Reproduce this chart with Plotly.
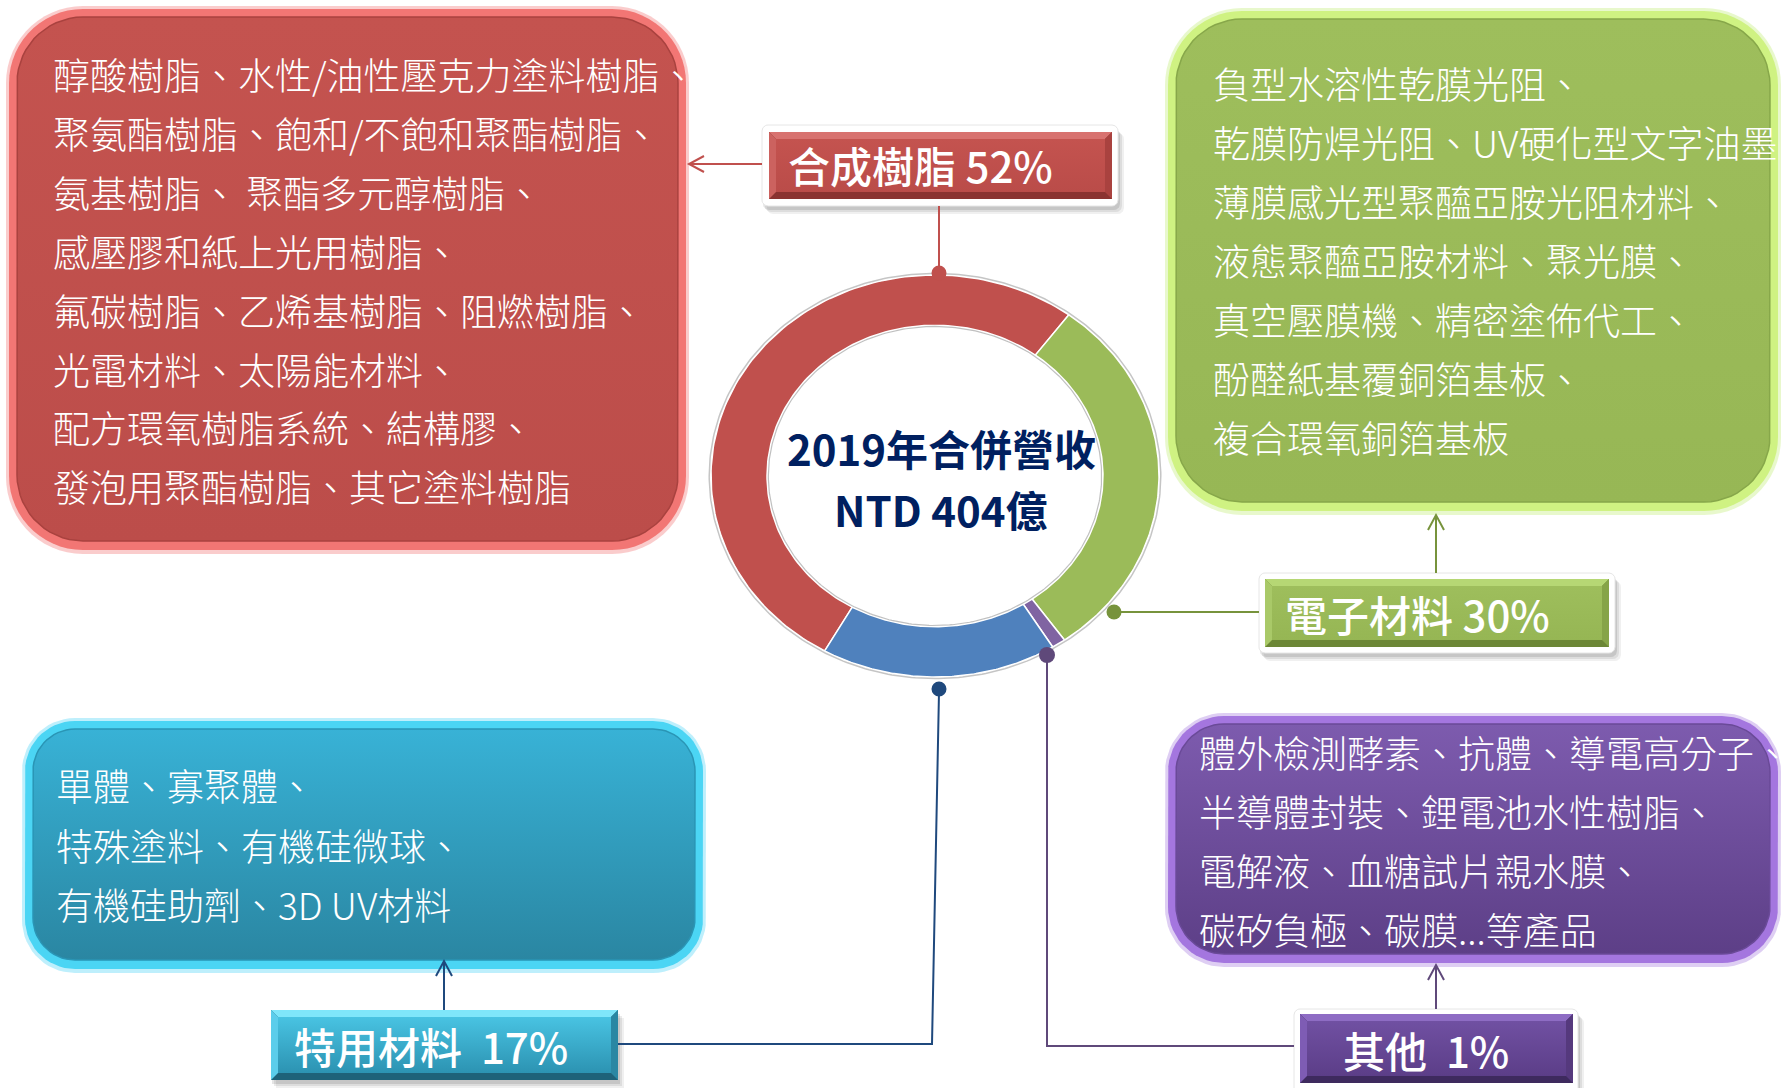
import numpy as np
import plotly.graph_objects as go

W, H = 1787, 1088

# ---------------- data ----------------
segments = ["合成樹脂", "電子材料", "其他", "特用材料"]
shares = [52, 30, 1, 17]
segment_colors = ["#C0504D", "#9BBB59", "#8064A2", "#4F81BD"]
segment_labels = ["合成樹脂 52%", "電子材料 30%", "其他  1%", "特用材料  17%"]
center_title = ["2019年合併營收", "NTD 404億"]

resin_products = [
    "醇酸樹脂、水性/油性壓克力塗料樹脂、",
    "聚氨酯樹脂、飽和/不飽和聚酯樹脂、",
    "氨基樹脂、 聚酯多元醇樹脂、",
    "感壓膠和紙上光用樹脂、",
    "氟碳樹脂、乙烯基樹脂、阻燃樹脂、",
    "光電材料、太陽能材料、",
    "配方環氧樹脂系統、結構膠、",
    "發泡用聚酯樹脂、其它塗料樹脂",
]
electronic_products = [
    "負型水溶性乾膜光阻、",
    "乾膜防焊光阻、UV硬化型文字油墨、",
    "薄膜感光型聚醯亞胺光阻材料、",
    "液態聚醯亞胺材料、聚光膜、",
    "真空壓膜機、精密塗佈代工、",
    "酚醛紙基覆銅箔基板、",
    "複合環氧銅箔基板",
]
specialty_products = [
    "單體、寡聚體、",
    "特殊塗料、有機硅微球、",
    "有機硅助劑、3D UV材料",
]
other_products = [
    "體外檢測酵素、抗體、導電高分子、",
    "半導體封裝、鋰電池水性樹脂、",
    "電解液、血糖試片親水膜、",
    "碳矽負極、碳膜...等產品",
]

FONT = "Noto Sans CJK TC, Noto Sans CJK SC, sans-serif"

fig = go.Figure()


def rr_pts(x0, y0, x1, y1, r, n=16):
    xs, ys = [], []
    corners = [(x1 - r, y0 + r, -90, 0), (x1 - r, y1 - r, 0, 90),
               (x0 + r, y1 - r, 90, 180), (x0 + r, y0 + r, 180, 270)]
    for cx, cy, a0, a1 in corners:
        a = np.radians(np.linspace(a0, a1, n))
        xs += list(cx + r * np.cos(a))
        ys += list(cy + r * np.sin(a))
    xs.append(xs[0]); ys.append(ys[0])
    return xs, ys


def poly(xs, ys, fill=None, grad=None, line=None, width=0, xa="x", ya="y"):
    kw = dict(x=xs, y=ys, mode="lines", fill="toself", hoverinfo="skip",
              showlegend=False, xaxis=xa, yaxis=ya)
    if grad is not None:
        kw["fillgradient"] = dict(type="vertical",
                                  colorscale=[[0, grad[0]], [1, grad[1]]],
                                  start=min(ys), stop=max(ys))
    else:
        kw["fillcolor"] = fill
    kw["line"] = dict(color=line if line else "rgba(0,0,0,0)", width=width)
    fig.add_trace(go.Scatter(**kw))


def rect_pts(x0, y0, x1, y1):
    return [x0, x1, x1, x0, x0], [y0, y0, y1, y1, y0]


# ---------------- big rounded boxes ----------------
boxes = [
    # (x0,y0,x1,y1,r, glow, rim, face_top, face_bottom, inner_line)
    (9, 9, 686, 550, 74, "rgba(240,110,110,0.35)", "#F27674", "#C4534F", "#BC4D4A", "#A9423F"),
    (1168, 11, 1778, 511, 74, "rgba(190,235,110,0.35)", "#CFF282", "#9EBE5C", "#97B755", "#87A74A"),
    (25, 721, 703, 969, 50, "rgba(70,210,245,0.35)", "#4BD5F4", "#38B2D6", "#2A86A2", "#2A95B5"),
    (1168, 716, 1778, 963, 56, "rgba(160,115,220,0.35)", "#A476DF", "#7D5BAE", "#5D3F87", "#6A4A98"),
]
for (x0, y0, x1, y1, r, glow, rim, ft, fb, il) in boxes:
    xs, ys = rr_pts(x0 - 3, y0 - 3, x1 + 3, y1 + 4, r + 3)
    poly(xs, ys, fill=glow)
    xs, ys = rr_pts(x0, y0, x1, y1, r)
    poly(xs, ys, fill=rim)
    xs, ys = rr_pts(x0 + 8, y0 + 8, x1 - 8, y1 - 9, r - 8)
    poly(xs, ys, grad=(ft, fb), line=il, width=1.5)


# ---------------- labels with bevel ----------------
def bevel_label(face, frame, top_c, left_c, right_c, bottom_c, face_grad, b=7):
    x0, y0, x1, y1 = face
    if frame is not None:
        fx0, fy0, fx1, fy1 = frame
        for off, a in [(8, 0.06), (6, 0.08), (4, 0.10)]:
            xs, ys = rr_pts(fx0 + off - 3, fy0 + off, fx1 + off - 2, fy1 + off, 6)
            poly(xs, ys, fill=f"rgba(0,0,0,{a})")
        xs, ys = rr_pts(fx0, fy0, fx1, fy1, 6)
        poly(xs, ys, fill="#FFFFFF", line="#E6E6E6", width=1)
    else:
        for off, a in [(8, 0.06), (6, 0.08), (4, 0.10)]:
            xs, ys = rect_pts(x0 + off - 3, y0 + off, x1 + off - 2, y1 + off)
            poly(xs, ys, fill=f"rgba(0,0,0,{a})")
    xs, ys = rect_pts(x0, y0, x1, y1)
    poly(xs, ys, fill=bottom_c)
    poly([x0, x1, x1 - b, x0 + b, x0], [y0, y0, y0 + b, y0 + b, y0], fill=top_c)
    poly([x0, x0 + b, x0 + b, x0, x0], [y0, y0 + b, y1 - b, y1, y0], fill=left_c)
    poly([x1, x1, x1 - b, x1 - b, x1], [y0, y1, y1 - b, y0 + b, y0], fill=right_c)
    xs, ys = rect_pts(x0 + b, y0 + b, x1 - b, y1 - b)
    poly(xs, ys, grad=face_grad)


bevel_label((769, 132, 1112, 199), (762, 125, 1118, 206),
            "#D8726F", "#CC625F", "#A9423F", "#8A3331", ("#C4534F", "#BA4C49"))
bevel_label((1265, 579, 1609, 647), (1259, 573, 1615, 653),
            "#B6D774", "#A9C968", "#86A448", "#6C8736", ("#9EBE5C", "#96B654"))
bevel_label((271, 1010, 618, 1080), None,
            "#7FE6FA", "#5BCDEB", "#2A87A3", "#1E6279", ("#48C3E2", "#2C93B2"))
bevel_label((1300, 1014, 1573, 1083), (1294, 1009, 1578, 1094),
            "#8E6CC4", "#7E5CB4", "#55397D", "#3E2A5E", ("#7050A2", "#5C3E88"))

# ---------------- doughnut (drawn from shares) ----------------
hole = 0.75
start_angle = 209.5  # degrees clockwise from 12 o'clock
total = float(sum(shares))
cum = start_angle
for name, v, c in zip(segments, shares, segment_colors):
    span = v / total * 360.0
    th = np.radians(np.linspace(cum, cum + span, 140))
    xs = np.concatenate([np.sin(th), hole * np.sin(th[::-1]), [np.sin(th[0])]])
    ys = np.concatenate([np.cos(th), hole * np.cos(th[::-1]), [np.cos(th[0])]])
    poly(list(xs), list(ys), fill=c, line="#FFFFFF", width=1.5, xa="x2", ya="y2")
    cum += span

# ring outlines (soft grey edge)
th = np.radians(np.linspace(0, 360, 361))
for rr, col, wd in [(1.008, "rgba(150,150,150,0.55)", 1.5), (hole - 0.006, "rgba(150,150,150,0.6)", 1.2)]:
    fig.add_trace(go.Scatter(x=list(rr * np.sin(th)), y=list(rr * np.cos(th)), mode="lines",
                             line=dict(color=col, width=wd), hoverinfo="skip",
                             showlegend=False, xaxis="x2", yaxis="y2"))

# ---------------- connectors & arrows ----------------
shapes = []


def seg_path(points, color, width=2):
    d = "M" + " L".join(f"{x},{y}" for x, y in points)
    shapes.append(dict(type="path", path=d, xref="x", yref="y", layer="above",
                       line=dict(color=color, width=width)))


def arrow(tail, tip, color, L=15, hw=8):
    tx, ty = tip
    dx, dy = tip[0] - tail[0], tip[1] - tail[1]
    n = (dx * dx + dy * dy) ** 0.5
    ux, uy = dx / n, dy / n
    px, py = -uy, ux
    seg_path([tail, tip], color)
    seg_path([(tx - L * ux + hw * px, ty - L * uy + hw * py), (tx, ty),
              (tx - L * ux - hw * px, ty - L * uy - hw * py)], color)


def dot(cx, cy, r, color):
    shapes.append(dict(type="circle", xref="x", yref="y", x0=cx - r, x1=cx + r,
                       y0=cy - r, y1=cy + r, fillcolor=color, layer="above",
                       line=dict(width=0)))


red_c, green_c, blue_c, purple_c = "#C0504D", "#77933C", "#1F497D", "#5F497A"
seg_path([(939, 206), (939, 270)], red_c)
arrow((762, 164), (689, 164), red_c)
dot(939, 273, 7.5, red_c)

seg_path([(1114, 612), (1259, 612)], green_c)
arrow((1436, 573), (1436, 515), green_c)
dot(1114, 612, 7.5, green_c)

seg_path([(618, 1044), (932, 1044), (939, 692)], blue_c)
arrow((444, 1010), (444, 961), blue_c)
dot(939, 689, 7.5, blue_c)

seg_path([(1047, 658), (1047, 1046), (1294, 1046)], purple_c)
arrow((1436, 1009), (1436, 965), purple_c)
dot(1047, 655, 8, purple_c)

# ---------------- text ----------------
ann = []


def txt(x, y, s, size, color="#FFFFFF", weight=300, anchor="left"):
    ann.append(dict(x=x, y=y, xref="x", yref="y", text=s, showarrow=False,
                    xanchor=anchor, yanchor="middle",
                    font=dict(family=FONT, size=size, color=color, weight=weight)))


for i, s in enumerate(resin_products):
    txt(51, 74 + i * 58.9, s, 37)
for i, s in enumerate(electronic_products):
    txt(1211, 83 + i * 59.0, s, 37)
for i, s in enumerate(specialty_products):
    txt(54, 785 + i * 59.5, s, 37)
for i, s in enumerate(other_products):
    txt(1197, 752 + i * 59.0, s, 37)

label_pos = {"合成樹脂": (786, 164), "電子材料": (1283, 613), "其他": (1341, 1049), "特用材料": (292, 1045)}
for name, lab in zip(segments, segment_labels):
    x, y = label_pos[name]
    txt(x, y, lab, 42, weight=500)

txt(941, 447, center_title[0], 42, color="#002060", weight=700, anchor="center")
txt(941, 508, center_title[1], 42, color="#002060", weight=700, anchor="center")

# ---------------- layout ----------------
cx, cy, rx, ry = 935, 476, 224, 201
ext = 1.05
fig.update_layout(
    width=W, height=H, margin=dict(l=0, r=0, t=0, b=0),
    paper_bgcolor="#FFFFFF", plot_bgcolor="rgba(0,0,0,0)",
    showlegend=False, shapes=shapes, annotations=ann,
    xaxis=dict(range=[0, W], domain=[0, 1], visible=False, fixedrange=True),
    yaxis=dict(range=[H, 0], domain=[0, 1], visible=False, fixedrange=True),
    xaxis2=dict(range=[-ext, ext], domain=[(cx - rx * ext) / W, (cx + rx * ext) / W],
                visible=False, anchor="y2", fixedrange=True),
    yaxis2=dict(range=[-ext, ext], domain=[(H - cy - ry * ext) / H, (H - cy + ry * ext) / H],
                visible=False, anchor="x2", fixedrange=True),
)

fig.write_html("out.html", config={"displayModeBar": False},
               post_script="document.body.style.margin='0';")
